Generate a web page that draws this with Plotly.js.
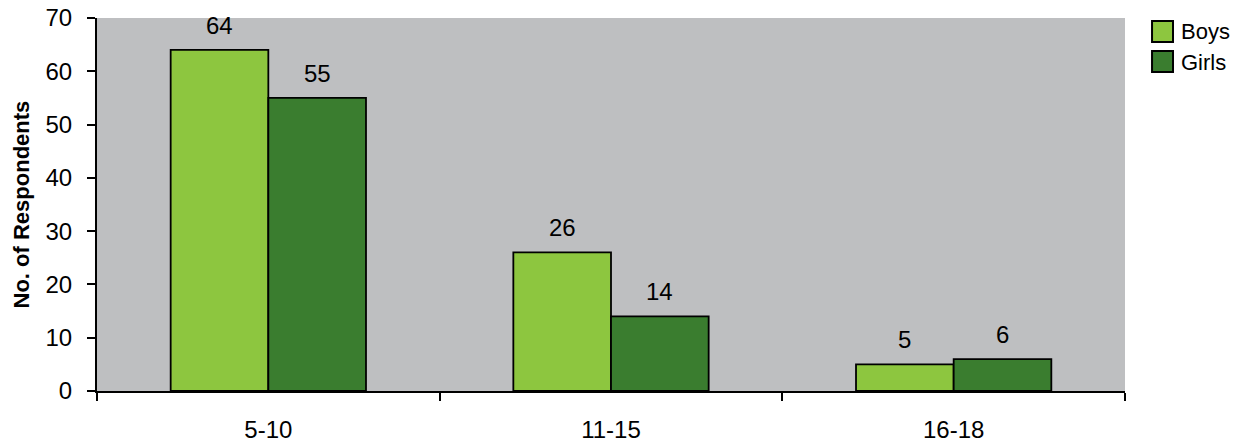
<!DOCTYPE html>
<html><head><meta charset="utf-8">
<script src="https://cdn.plot.ly/plotly-3.0.1.min.js"></script>
<style>body{margin:0;}#c{width:1243px;height:446px;}</style>
</head><body><div id="c"></div>
<script>
const categories = ['5-10', '11-15', '16-18'];
const boys = [64, 26, 5];
const girls = [55, 14, 6];
const seriesNames = ['Boys', 'Girls'];
const seriesColors = ['#8DC63F', '#3A7D2F'];
const yTitle = 'No. of Respondents';

const bargap = 0.43;
const barW = (1 - bargap) / 2;
const fam = 'Arial, "Liberation Sans", sans-serif';
const font = {family: fam, size: 24, color: '#000'};

const traces = [boys, girls].map((vals, s) => ({
  type: 'bar', name: seriesNames[s], x: categories, y: vals, showlegend: false,
  marker: {color: seriesColors[s], line: {color: '#000', width: 1.8}}
}));

const annotations = [];
[boys, girls].forEach((vals, s) => {
  vals.forEach((v, i) => {
    annotations.push({x: i + (s === 0 ? -barW / 2 : barW / 2), y: v, xref: 'x', yref: 'y',
      text: String(v), showarrow: false, yanchor: 'bottom', yshift: 9, font: font});
  });
});
// y-axis title
annotations.push({xref: 'paper', yref: 'paper', x: -0.073, y: 0.5, xanchor: 'center', yanchor: 'middle',
  textangle: -90, text: '<b>' + yTitle + '</b>', showarrow: false, font: {family: fam, size: 22, color: '#000'}});

// custom legend
const shapes = [];
const legBoxes = [[0.992, 0.9357], [0.9115, 0.8552]];
const legTextY = [0.9638, 0.882];
seriesNames.forEach((n, s) => {
  shapes.push({type: 'rect', xref: 'paper', yref: 'paper', x0: 1.0263, x1: 1.0467,
    y0: legBoxes[s][1], y1: legBoxes[s][0], fillcolor: seriesColors[s], line: {color: '#000', width: 2}});
  annotations.push({xref: 'paper', yref: 'paper', x: 1.0525, y: legTextY[s], xanchor: 'left', yanchor: 'middle',
    text: n, showarrow: false, font: {family: fam, size: 22, color: '#000'}});
});

const layout = {
  width: 1243, height: 446,
  margin: {l: 97, r: 118, t: 18, b: 55},
  paper_bgcolor: '#fff', plot_bgcolor: '#BEBFC1',
  barmode: 'group', bargap: bargap, bargroupgap: 0,
  font: font,
  showlegend: false,
  xaxis: {type: 'category', tickson: 'boundaries', ticks: 'outside', ticklen: 8, tickwidth: 2,
          tickcolor: '#000', showline: true, linecolor: '#000', linewidth: 2, showgrid: false,
          ticklabelstandoff: 16, tickfont: font, range: [-0.5, 2.5], automargin: false},
  yaxis: {range: [0, 70], dtick: 10, ticks: 'outside', ticklen: 8, tickwidth: 2, tickcolor: '#000',
          showline: true, linecolor: '#000', linewidth: 2, showgrid: false, zeroline: false,
          tickfont: font, ticklabelstandoff: 10, automargin: false},
  shapes: shapes,
  annotations: annotations
};

Plotly.newPlot('c', traces, layout, {displayModeBar: false, staticPlot: true});
</script></body></html>
